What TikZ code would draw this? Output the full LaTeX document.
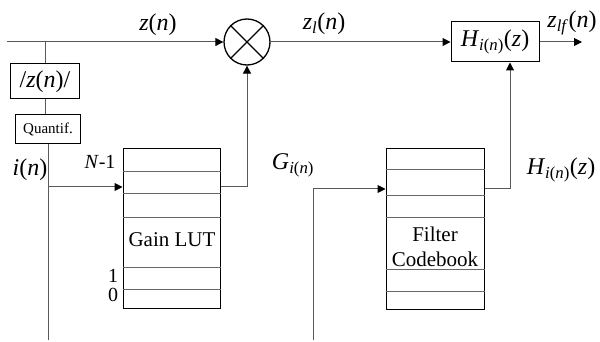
\documentclass[tikz,border=0pt]{standalone}
\usepackage{fontspec}
\setmainfont{Liberation Serif}
\usetikzlibrary{arrows.meta}
\newcommand{\vi}[1]{\textit{#1}}
\begin{document}
\begin{tikzpicture}[x=1pt,y=-1pt,
  conn/.style={draw=black!65, line width=1pt},
  arr/.style={conn, -{Triangle[length=8pt,width=8pt,color=black]}},
  box/.style={draw=black, line width=1pt, rectangle, inner sep=0pt},
  rowline/.style={draw=black!60, line width=1pt},
  lbl/.style={inner sep=0pt, font=\fontsize{24}{28}\selectfont},
  txt/.style={inner sep=0pt, font=\fontsize{21}{25}\selectfont, align=center},
  small/.style={inner sep=0pt, font=\fontsize{20}{22}\selectfont}]
\useasboundingbox (0,0) rectangle (600,342);
\fill[white] (0,0) rectangle (600,342);

% blocks
\node[circle, draw=black, line width=1.3pt, minimum size=46pt, inner sep=0pt] (mul) at (247,42) {};
\draw[line width=1.1pt] (mul.north west) -- (mul.south east);
\draw[line width=1.1pt] (mul.north east) -- (mul.south west);

\node[box, minimum width=69pt, minimum height=35pt, font=\fontsize{24}{28}\selectfont] (abs) at (45,81.5) {/\vi{z}(\vi{n})/};
\node[box, minimum width=65pt, minimum height=29pt, font=\fontsize{15}{18}\selectfont] (quant) at (48,129.5) {Quantif.};

\node[box, minimum width=97pt, minimum height=159pt] (lut) at (171.5,228.5) {};
\foreach \yy in {172,194,217,267,289}
  \draw[rowline] (lut.west |- 0,\yy) -- (lut.east |- 0,\yy);
\node[txt] (luttxt) at (172,240) {Gain LUT};

\node[box, minimum width=98pt, minimum height=160pt] (cb) at (435,229) {};
\foreach \yy in {170,196,217,269,291}
  \draw[rowline] (cb.west |- 0,\yy) -- (cb.east |- 0,\yy);
\node[txt] (cbtxt) at (435,247) {Filter\\Codebook};

\node[box, minimum width=88pt, minimum height=40pt, font=\fontsize{24}{28}\selectfont] (hbox) at (495,42) {\vi{H}\textsubscript{\vi{i}(\vi{n})}(\vi{z})};

% connectors
\coordinate (in) at (7,42);
\coordinate (br) at (45,42);
\coordinate (ibot) at (48,340);
\coordinate (itap) at (48,187);
\coordinate (out) at (582,42);
\coordinate (cbin) at (313,340);

\draw[arr] (in) -- (mul.west);
\draw[conn] (br) -- (abs.north);
\draw[conn] (abs.south) -- (abs.south |- quant.north);
\draw[conn] (quant.south |- 0,144) -- (ibot);
\draw[arr] (itap) -- (itap -| lut.west);
\draw[arr] (lut.east |- 0,187) -| (mul.south);
\draw[arr] (mul.east) -- (hbox.west);
\draw[arr] (hbox.east) -- (out);
\draw[arr] (cb.east |- 0,189) -| (hbox.south -| 510,0);
\draw[arr] (cbin) |- (cb.west |- 0,189);

% labels
\node[lbl] (lz) at (158,25) {\vi{z}(\vi{n})};
\node[lbl] (lzl) at (324,24) {\vi{z}\textsubscript{\vi{l}}(\vi{n})};
\node[lbl] (lzlf) at (572,23) {\vi{z}\textsubscript{\vi{lf}}(\vi{n})};
\node[lbl] (li) at (30,170) {\vi{i}(\vi{n})};
\node[small] (lN) at (100,162) {\vi{N}-1};
\node[small] (l1) at (113,276) {1};
\node[small] (l0) at (113,295) {0};
\node[lbl] (lG) at (293,165) {\vi{G}\textsubscript{\vi{i}(\vi{n})}};
\node[lbl] (lH) at (561,170) {\vi{H}\textsubscript{\vi{i}(\vi{n})}(\vi{z})};
\end{tikzpicture}
\end{document}
